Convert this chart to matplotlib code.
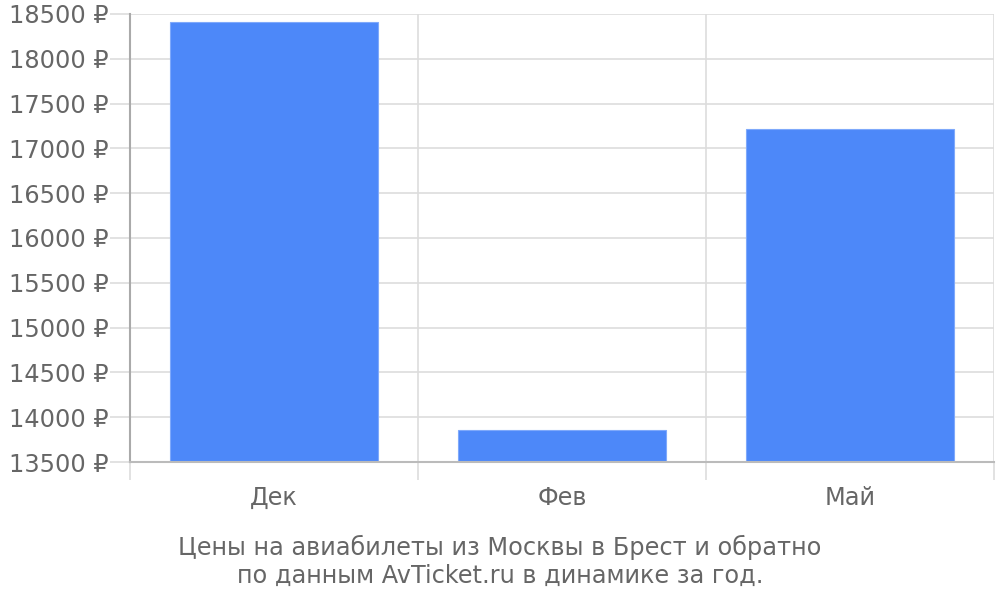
import numpy as np
import matplotlib.pyplot as plt
from matplotlib.ticker import FixedLocator

# Data
months = ['Дек', 'Фев', 'Май']
prices = [18416, 13852, 17211]
y_ticks = list(range(13500, 18501, 500))

fig = plt.figure(figsize=(10, 6), dpi=100)
ax = fig.add_axes([0.13, 0.23, 0.864, 0.7467])

x = np.arange(len(months))
ax.bar(x, [p - 13500 for p in prices], bottom=13500, width=0.72,
       color='#4d88f9', edgecolor='#7fa9fb', linewidth=0.8, zorder=3)

ax.set_xlim(-0.5, len(months) - 0.5)
ax.set_ylim(13500, 18500)

ax.set_yticks(y_ticks)
ax.set_yticklabels([f'{t} ₽' for t in y_ticks])
ax.set_xticks(x)
ax.set_xticklabels(months)
ax.xaxis.set_minor_locator(FixedLocator(np.append(x + 0.5, -0.5)))

fs = 17.3
ax.tick_params(axis='y', length=14.4, color='#dddddd', width=1.2,
               labelsize=fs, labelcolor='#666666', pad=1)
ax.tick_params(axis='x', which='major', length=0, labelsize=fs,
               labelcolor='#666666', pad=17)
ax.tick_params(axis='x', which='minor', length=13, color='#dddddd', width=1.2)

ax.grid(axis='y', color='#dddddd', linewidth=1.2, zorder=0)
ax.grid(axis='x', which='minor', color='#dddddd', linewidth=1.2, zorder=0)

for side in ['top', 'right']:
    ax.spines[side].set_visible(False)
ax.spines['left'].set_color('#aaaaaa')
ax.spines['left'].set_linewidth(1.5)
ax.spines['left'].set_bounds(13500, 18500)
ax.spines['bottom'].set_color('#bbbbbb')
ax.spines['bottom'].set_linewidth(1.5)
ax.spines['bottom'].set_zorder(4)

fig.text(0.5, 0.064, 'Цены на авиабилеты из Москвы в Брест и обратно\nпо данным AvTicket.ru в динамике за год.',
         ha='center', va='center', fontsize=fs, color='#666666', linespacing=1.2)

plt.savefig('out.png')
